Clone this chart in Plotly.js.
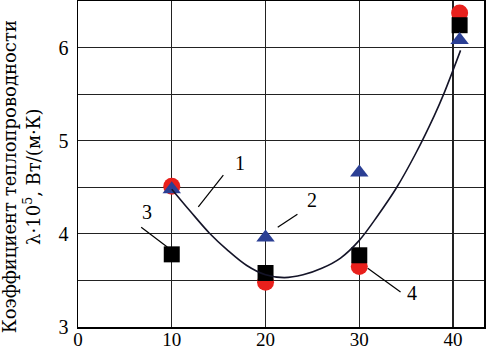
<!DOCTYPE html>
<html>
<head>
<meta charset="utf-8">
<script src="https://cdn.plot.ly/plotly-3.0.1.min.js"></script>
<style>
  html, body { margin: 0; padding: 0; background: #fff; }
  #chart { width: 486px; height: 349px; }
</style>
</head>
<body>
<div id="chart"></div>
<script>
// points
const xPoints = [10, 20, 30, 40.7];
const circles = [4.51, 3.48, 3.65, 6.37];    // 4
const squares = [3.78, 3.58, 3.77, 6.24];    // 3
const triangles = [4.48, 3.96, 4.66, 6.08];  // 2

// fitted curve (1)
const curveX = [10, 12, 14, 16, 18, 20, 22, 24, 26, 28, 30, 32, 34, 36, 38, 39, 40.8];
const curveY = [4.48, 4.24, 4.01, 3.82, 3.66, 3.56, 3.53, 3.56, 3.63, 3.74, 3.93, 4.2, 4.5, 4.86, 5.27, 5.5, 5.97];

const labelText = ["1", "2", "3", "4"];
const labelX = [17.3, 25.0, 7.4, 35.6];
const labelY = [4.76, 4.36, 4.23, 3.37];
// leader lines from label to the mark
const leaderX0 = [15.5, 23.4, 6.74, 34.4];
const leaderY0 = [4.63, 4.21, 4.07, 3.375];
const leaderX1 = [12.83, 21.3, 9.52, 30.9];
const leaderY1 = [4.29, 4.07, 3.86, 3.63];

const serif = "Liberation Serif";

const data = [
    {
        x: xPoints, y: circles, mode: "markers", type: "scatter",
        marker: { symbol: "circle", size: 17, color: "#e8201c" }
    },
    {
        x: xPoints, y: squares, mode: "markers", type: "scatter",
        marker: { symbol: "square", size: 16, color: "#000" }
    },
    {
        x: xPoints, y: triangles, mode: "markers", type: "scatter",
        marker: { symbol: "triangle-up", size: 16, color: "#2b3f94" }
    },
    {
        x: curveX, y: curveY, mode: "lines", type: "scatter",
        line: { shape: "spline", color: "#141428", width: 1.6 }
    }
];

const annotations = labelText.map((t, i) => ({
    x: labelX[i], y: labelY[i], text: t, showarrow: false,
    font: { family: serif, size: 20, color: "#000" }
}));
annotations.push({
    xref: "paper", yref: "paper", x: -0.14, y: 0.46,
    xanchor: "center", yanchor: "middle",
    text: "Коэффициент теплопроводности<br>λ·10<sup>5</sup>, Вт/(м·К)",
    textangle: -90, showarrow: false,
    font: { family: "DejaVu Serif", size: 18, color: "#000" }
});

const shapes = labelText.map((t, i) => ({
    type: "line", xref: "x", yref: "y",
    x0: leaderX0[i], y0: leaderY0[i], x1: leaderX1[i], y1: leaderY1[i],
    line: { color: "#000", width: 1.2 }
}));

const layout = {
    width: 486,
    height: 349,
    margin: { l: 78, r: 2, t: 1, b: 22 },
    showlegend: false,
    paper_bgcolor: "#fff",
    plot_bgcolor: "#fff",
    font: { family: serif, size: 20, color: "#000" },
    xaxis: {
        range: [0, 43.3],
        tickvals: [0, 10, 20, 30, 40],
        tickfont: { family: serif, size: 19 },
        showgrid: true, gridcolor: "#222", gridwidth: 1.2,
        zeroline: false,
        showline: true, mirror: true, linecolor: "#000", linewidth: 1.5,
        ticks: "", ticklabelstandoff: -5
    },
    yaxis: {
        range: [3, 6.5],
        tickvals: [3, 4, 5, 6],
        showgrid: true, gridcolor: "#222", gridwidth: 1.2,
        minor: { dtick: 0.5, showgrid: true, gridcolor: "#222", gridwidth: 1.2 },
        zeroline: false,
        showline: true, mirror: true, linecolor: "#000", linewidth: 1.5,
        ticks: "", ticklabelstandoff: 4
    },
    shapes: shapes,
    annotations: annotations
};

Plotly.newPlot("chart", data, layout, { staticPlot: true });
</script>
</body>
</html>
